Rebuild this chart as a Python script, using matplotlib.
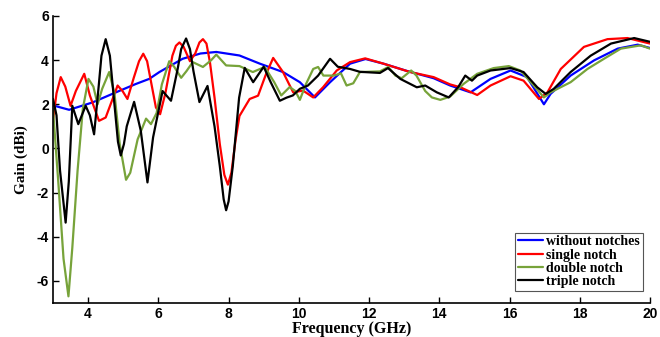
import matplotlib
matplotlib.use("Agg")
import matplotlib.pyplot as plt

plt.rcParams['axes.unicode_minus'] = False

# ---- data ----
blue_x = [3.0, 3.46, 4.12, 4.79, 5.36, 5.74, 6.03, 6.69, 7.2, 7.65, 8.31, 8.89, 9.55, 10.03, 10.46,
          10.89, 11.46, 11.9, 12.41, 13.1, 13.84, 14.31, 14.89, 15.46, 16.03, 16.5, 16.98, 17.17,
          17.74, 18.41, 19.08, 19.65, 20.0]
blue_y = [1.95, 1.75, 2.08, 2.54, 2.92, 3.15, 3.46, 4.06, 4.3, 4.37, 4.21, 3.84, 3.46, 3.0, 2.31,
          3.0, 3.84, 4.05, 3.84, 3.5, 3.18, 2.85, 2.54, 3.15, 3.53, 3.23, 2.0, 2.47,
          3.3, 3.99, 4.52, 4.7, 4.55]

red_x = [3.0, 3.1, 3.22, 3.35, 3.5, 3.65, 3.89, 4.05, 4.31, 4.5, 4.84, 4.98, 5.12, 5.3, 5.45,
         5.57, 5.68, 5.93, 6.05, 6.2, 6.4, 6.5, 6.6, 6.72, 6.9, 7.05, 7.17, 7.27, 7.37, 7.47,
         7.6, 7.75, 7.88, 7.98, 8.08, 8.2, 8.31,
         8.6, 8.84, 9.05, 9.27, 9.55, 9.84, 10.12, 10.41, 10.69, 11.08, 11.46, 11.89, 12.41,
         13.17, 13.84, 14.31, 14.6, 15.08, 15.46, 16.03, 16.4, 16.84, 17.08, 17.46, 18.12,
         18.79, 19.36, 20.0]
red_y = [1.25, 2.5, 3.23, 2.8, 1.93, 2.6, 3.38, 2.4, 1.25, 1.4, 2.85, 2.6, 2.24, 3.2, 3.95,
         4.29, 3.95, 1.86, 1.55, 2.5, 4.2, 4.65, 4.8, 4.6, 3.95, 4.3, 4.8, 4.95, 4.75, 3.9,
         2.3, 0.2, -1.2, -1.64, -1.1, 0.4, 1.47,
         2.24, 2.39, 3.3, 4.1, 3.46, 2.54, 2.62, 2.31, 2.77, 3.53, 3.91, 4.08, 3.84,
         3.46, 3.23, 2.9, 2.77, 2.42, 2.85, 3.27, 3.07, 2.24, 2.54, 3.6, 4.6,
         4.95, 5.0, 4.75]

green_x = [3.0, 3.15, 3.3, 3.44, 3.55, 3.7, 3.85, 4.01, 4.15, 4.27, 4.4, 4.6, 4.75, 4.9, 5.08,
           5.2, 5.41, 5.65, 5.79, 5.95, 6.1, 6.31, 6.45, 6.65, 6.8, 6.98, 7.27, 7.5, 7.65, 7.93,
           8.31, 8.69, 9.03, 9.3, 9.5, 9.74, 9.9, 10.03, 10.2, 10.41, 10.55, 10.7, 11.0, 11.2,
           11.36, 11.55, 11.74, 12.31, 12.55, 12.75, 12.93, 13.2, 13.35, 13.6, 13.79, 14.03,
           14.31, 14.69, 15.08, 15.55, 15.98, 16.31, 16.69, 16.98, 17.17, 17.74, 18.22, 18.69,
           19.17, 19.74, 20.0]
green_y = [1.78, -1.5, -5.0, -6.7, -4.5, -1.0, 1.8, 3.15, 2.8, 2.0, 2.7, 3.46, 2.5, 0.2, -1.42,
           -1.1, 0.41, 1.35, 1.1, 1.6, 2.9, 3.95, 3.7, 3.2, 3.5, 3.91, 3.69, 3.99, 4.25, 3.76,
           3.73, 3.46, 3.69, 3.0, 2.4, 2.78, 2.6, 2.2, 2.9, 3.6, 3.69, 3.3, 3.3, 3.4,
           2.85, 2.95, 3.46, 3.49, 3.69, 3.3, 3.18, 3.53, 3.3, 2.6, 2.31, 2.2,
           2.35, 2.92, 3.38, 3.64, 3.73, 3.53, 2.85, 2.31, 2.54, 3.0, 3.6, 4.06,
           4.52, 4.67, 4.52]

black_x = [3.0, 3.1, 3.2, 3.36, 3.45, 3.55, 3.72, 3.93, 4.05, 4.17, 4.3, 4.38, 4.5, 4.62, 4.72,
           4.85, 4.93, 5.02, 5.1, 5.31, 5.5, 5.69, 5.85, 6.12, 6.36, 6.55, 6.65, 6.79, 6.9, 7.0,
           7.17, 7.4, 7.6, 7.75, 7.86, 7.93, 8.0, 8.12, 8.3, 8.46, 8.7, 9.0, 9.2, 9.46, 9.65,
           9.83, 10.03, 10.26, 10.55, 10.89, 11.11,
           11.46, 11.74, 12.31, 12.54, 12.89, 13.36, 13.6, 13.93, 14.27, 14.54, 14.74, 14.93,
           15.08, 15.46, 16.03, 16.4, 16.79, 17.03, 17.26, 17.74, 18.31, 18.89, 19.55, 20.0]
black_y = [2.24, 1.5, -1.0, -3.36, -1.5, 1.93, 1.1, 1.93, 1.5, 0.64, 2.8, 4.2, 4.95, 4.2, 2.5,
           0.3, -0.32, 0.2, 1.0, 2.11, 0.8, -1.54, 0.5, 2.6, 2.16, 3.6, 4.5, 4.98, 4.5, 3.5,
           2.1, 2.83, 1.0, -0.8, -2.3, -2.8, -2.4, -0.8, 2.3, 3.65, 3.0, 3.7, 3.0, 2.16, 2.3,
           2.4, 2.7, 2.85, 3.3, 4.06, 3.7,
           3.6, 3.47, 3.42, 3.64, 3.15, 2.77, 2.85, 2.54, 2.31, 2.78, 3.3, 3.07,
           3.3, 3.53, 3.64, 3.46, 2.77, 2.47, 2.7, 3.46, 4.2, 4.75, 5.0, 4.83]

labels = ["without notches", "single notch", "double notch", "triple notch"]
x_ticks = [4, 6, 8, 10, 12, 14, 16, 18, 20]
y_ticks = [-6, -4, -2, 0, 2, 4, 6]

# ---- figure ----
fig = plt.figure(figsize=(6.6, 3.37), dpi=100)
ax = fig.add_axes([0.0803, 0.101, 0.9045, 0.8516])

series = [(blue_x, blue_y, '#0000ff'), (red_x, red_y, '#ff0000'),
          (green_x, green_y, '#77a33a'), (black_x, black_y, '#000000')]
for (xs, ys, c), lab in zip(series, labels):
    ax.plot(xs, ys, color=c, lw=1.6, label=lab, solid_joinstyle='round', solid_capstyle='round')

ax.set_xlim(3, 20)
ax.set_ylim(-7, 6)
ax.set_xticks(x_ticks)
ax.set_yticks(y_ticks)
ax.set_xticklabels([str(t) for t in x_ticks], fontsize=10, fontweight='bold', family='Liberation Sans')
ax.set_yticklabels([str(t) for t in y_ticks], fontsize=10, fontweight='bold', family='Liberation Sans')
ax.tick_params(direction='in', length=4, width=1, pad=3)
for s in ['top', 'right']:
    ax.spines[s].set_visible(False)
for s in ['left', 'bottom']:
    ax.spines[s].set_linewidth(1.2)

ax.set_xlabel("Frequency (GHz)", fontsize=11.5, fontweight='bold', family='Liberation Serif', labelpad=0)
ax.set_ylabel("Gain (dBi)", fontsize=11, fontweight='bold', family='Liberation Serif', labelpad=6)

leg = ax.legend(loc='lower right', bbox_to_anchor=(0.988, 0.042), borderaxespad=0,
                prop={'family': 'Liberation Serif', 'weight': 'bold', 'size': 10},
                handlelength=1.8, labelspacing=0.02, fancybox=False, framealpha=1,
                edgecolor='#555555', borderpad=0.2, handletextpad=0.25)
leg.get_frame().set_linewidth(0.8)

fig.savefig("out.png", dpi=100)
